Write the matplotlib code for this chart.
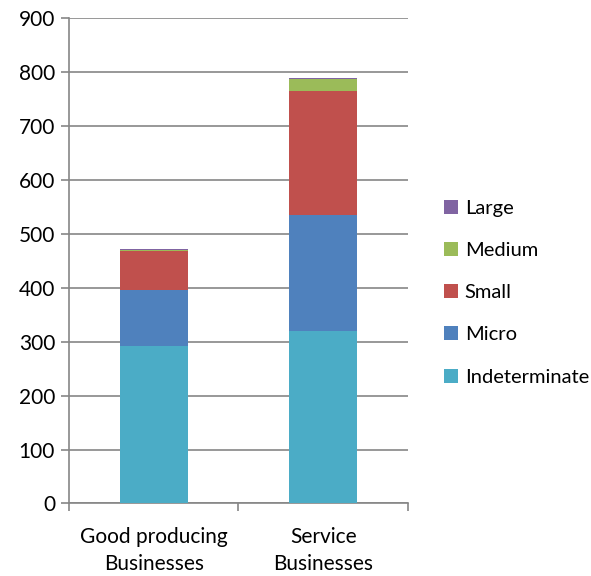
import numpy as np
import matplotlib.pyplot as plt

plt.rcParams['font.family'] = ['Lato', 'DejaVu Sans']

categories = ['Good producing\nBusinesses', 'Service\nBusinesses']
series_names = ['Indeterminate', 'Micro', 'Small', 'Medium', 'Large']
indeterminate = [292, 320]
micro = [104, 216]
small = [72, 229]
medium = [3, 22]
large = [0.5, 2]
colors = ['#4BACC6', '#4F81BD', '#C0504D', '#9BBB59', '#8064A2']

fig = plt.figure(figsize=(5.91, 5.76), dpi=100)
ax = fig.add_axes([0.1168, 0.126, 0.5732, 0.842])

x = np.arange(len(categories))
bottom = np.zeros(len(categories))
handles = []
for name, vals, c in zip(series_names, [indeterminate, micro, small, medium, large], colors):
    b = ax.bar(x, vals, 0.4, bottom=bottom, color=c, label=name, zorder=3)
    handles.append(b)
    bottom += np.array(vals)

grid_c = '#868686'
ax.set_ylim(0, 900)
ax.set_xlim(-0.5, 1.5)
ax.set_yticks(range(0, 901, 100))
ax.yaxis.grid(True, color=grid_c, linewidth=1.2, zorder=0)
for s in ['top', 'right']:
    ax.spines[s].set_visible(False)
for s in ['left', 'bottom']:
    ax.spines[s].set_color(grid_c)
    ax.spines[s].set_linewidth(1.2)
ax.tick_params(axis='y', colors=grid_c, length=6, width=1.2, labelcolor='black', labelsize=15, pad=4)

# category labels centered, ticks on the category boundaries
ax.set_xticks([-0.5, 0.5, 1.5])
ax.set_xticklabels([])
ax.tick_params(axis='x', colors=grid_c, length=6, width=1.2)
for xi, lab in zip(x, categories):
    ax.text(xi, -43, lab, ha='center', va='top', fontsize=15, linespacing=1.45)

leg = fig.legend(handles[::-1], series_names[::-1], loc='center left',
                 bbox_to_anchor=(0.72, 0.492), frameon=False, fontsize=14.5,
                 labelspacing=1.25, handlelength=0.7, handleheight=0.7,
                 handletextpad=0.35)

fig.savefig('out.png', dpi=100)
